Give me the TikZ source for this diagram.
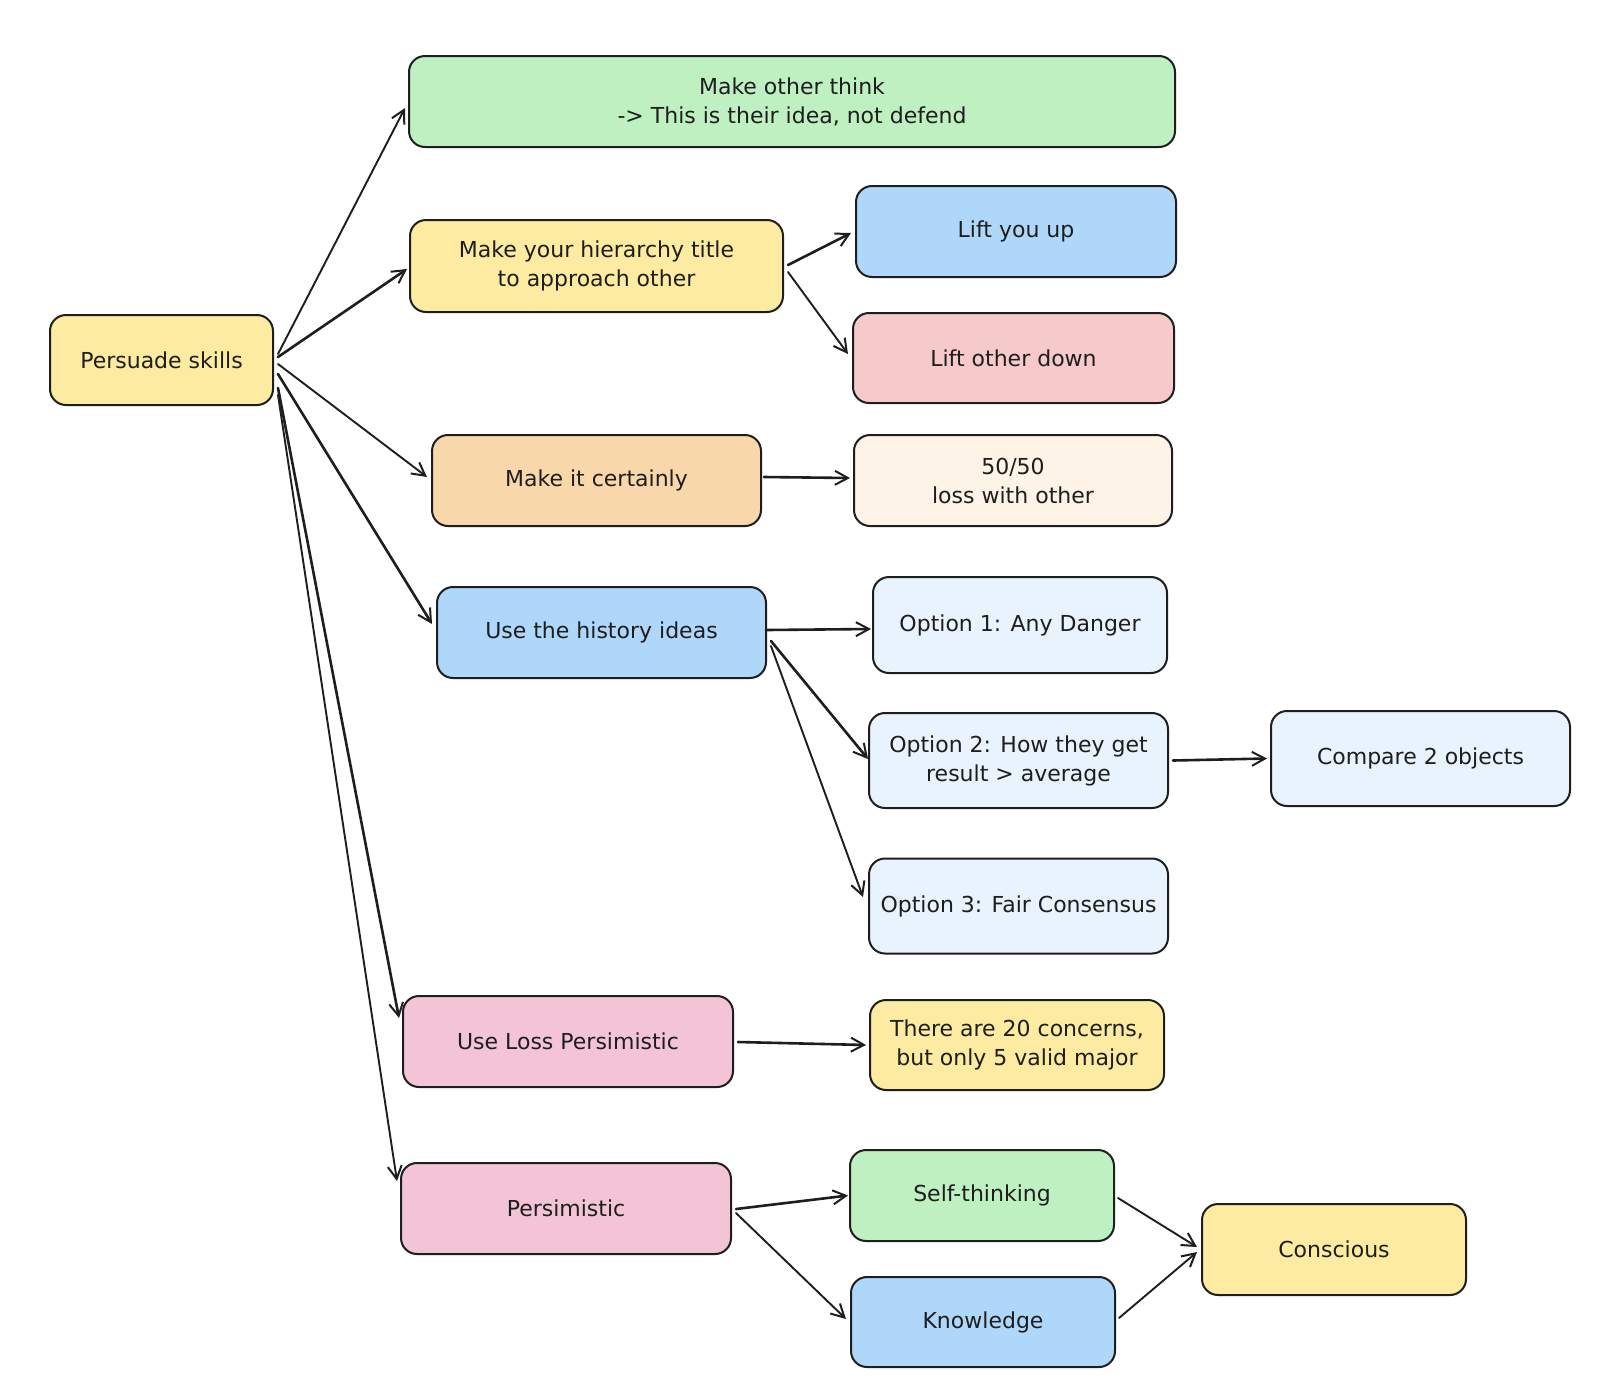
\documentclass[tikz,border=0pt]{standalone}
\usepackage{fontspec}
\setmainfont{DejaVu Sans}
\usetikzlibrary{arrows.meta,calc}
\definecolor{ink}{HTML}{1E1E1E}
\definecolor{cgreen}{HTML}{BFF0C1}
\definecolor{cyellow}{HTML}{FCEBA0}
\definecolor{cblue}{HTML}{AED7FA}
\definecolor{cred}{HTML}{F6CACA}
\definecolor{corange}{HTML}{F8D8AA}
\definecolor{ccream}{HTML}{FDF3E6}
\definecolor{clblue}{HTML}{E8F3FD}
\definecolor{cpink}{HTML}{F2C4D6}
\tikzset{
  box/.style={draw=ink, line width=2pt, rounded corners=16pt, align=center,
    text=ink, font=\fontsize{22}{29}\selectfont, inner sep=2pt},
  arr/.style={draw=ink, line width=1.9pt, line cap=round,
    -{Straight Barb[length=13pt,width=14pt,line width=2pt]}},
  arrb/.style={arr, line width=2.6pt},
}
\begin{document}
\begin{tikzpicture}[x=1pt,y=-1pt]
\useasboundingbox (0,0) rectangle (1608,1398);
\fill[white] (0,0) rectangle (1608,1398);

\node[box, fill=cyellow, minimum width=223pt, minimum height=90pt] (ps) at (161.5,360) {Persuade skills};
\node[box, fill=cgreen, minimum width=766pt, minimum height=91pt] (mot) at (792,101.5) {Make other think\\-> This is their idea, not defend};
\node[box, fill=cyellow, minimum width=373pt, minimum height=92pt] (hier) at (596.5,266) {Make your hierarchy title\\to approach other};
\node[box, fill=cblue, minimum width=320pt, minimum height=91pt] (lyu) at (1016,231.5) {Lift you up};
\node[box, fill=cred, minimum width=321pt, minimum height=90pt] (lod) at (1013.5,358) {Lift other down};
\node[box, fill=corange, minimum width=329pt, minimum height=91pt] (mic) at (596.5,480.5) {Make it certainly};
\node[box, fill=ccream, minimum width=318pt, minimum height=91pt] (ff) at (1013,480.5) {50/50\\loss with other};
\node[box, fill=cblue, minimum width=329pt, minimum height=91pt] (uth) at (601.5,632.5) {Use the history ideas};
\node[box, fill=clblue, minimum width=294pt, minimum height=96pt] (o1) at (1020,625) {Option 1: Any Danger};
\node[box, fill=clblue, minimum width=299pt, minimum height=95pt] (o2) at (1018.5,760.5) {Option 2: How they get\\result > average};
\node[box, fill=clblue, minimum width=299pt, minimum height=95pt] (cmp) at (1420.5,758.5) {Compare 2 objects};
\node[box, fill=clblue, minimum width=299pt, minimum height=95pt] (o3) at (1018.5,906) {Option 3: Fair Consensus};
\node[box, fill=cpink, minimum width=330pt, minimum height=91pt] (ulp) at (568,1041.5) {Use Loss Persimistic};
\node[box, fill=cyellow, minimum width=294pt, minimum height=90pt] (tac) at (1017,1045) {There are 20 concerns,\\but only 5 valid major};
\node[box, fill=cpink, minimum width=330pt, minimum height=91pt] (per) at (566,1208.5) {Persimistic};
\node[box, fill=cgreen, minimum width=264pt, minimum height=91pt] (st) at (982,1195.5) {Self-thinking};
\node[box, fill=cblue, minimum width=264pt, minimum height=90pt] (kn) at (983,1322) {Knowledge};
\node[box, fill=cyellow, minimum width=264pt, minimum height=91pt] (con) at (1334,1249.5) {Conscious};

\draw[arr]  ($(ps.east)+(4,-6)$) -- ($(mot.west)+(-3,6.5)$);
\draw[arrb] ($(ps.east)+(4,-3)$) -- ($(hier.west)+(-2,3)$);
\draw[arr]  ($(ps.east)+(4,4)$) -- ($(mic.west)+(-4,-3.5)$);
\draw[arrb] ($(ps.east)+(4,14)$) -- ($(uth.west)+(-4,-8.5)$);
\draw[arrb] ($(ps.east)+(4,28)$) -- ($(ulp.west)+(-3,-23.5)$);
\draw[arr]  ($(ps.east)+(4,35)$) -- ($(per.west)+(-3,-27.5)$);

\draw[arrb] ($(hier.east)+(4,-1)$) -- ($(lyu.west)+(-4,1.5)$);
\draw[arr]  ($(hier.east)+(4,6)$) -- ($(lod.west)+(-4,-4)$);
\draw[arrb] ($(mic.east)+(2,-3.5)$) -- ($(ff.west)+(-3,-2.5)$);

\draw[arrb] ($(uth.east)+(-1,-2.5)$) -- ($(o1.west)+(-1,4)$);
\draw[arrb] ($(uth.east)+(4,8.5)$) -- ($(o2.west)+(0,-1.5)$);
\draw[arr]  ($(uth.east)+(4,13.5)$) -- ($(o3.west)+(-5,-9)$);
\draw[arrb] ($(o2.east)+(4,0)$) -- ($(cmp.west)+(-3,0)$);

\draw[arrb] ($(ulp.east)+(4,0.5)$) -- ($(tac.west)+(-3,0)$);
\draw[arrb] ($(per.east)+(4,0.5)$) -- ($(st.west)+(-1,0)$);
\draw[arr]  ($(per.east)+(4,4.5)$) -- ($(kn.west)+(-4,-3)$);
\draw[arr]  ($(st.east)+(3,2.5)$) -- ($(con.west)+(-4,-2.5)$);
\draw[arr]  ($(kn.east)+(3,-4)$) -- ($(con.west)+(-4,2.5)$);
\end{tikzpicture}
\end{document}
